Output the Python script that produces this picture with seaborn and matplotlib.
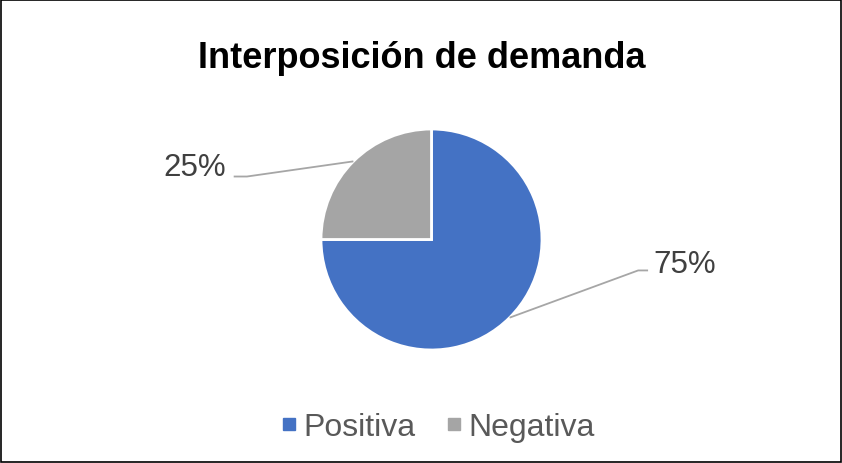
import numpy as np
import seaborn as sns
import matplotlib.pyplot as plt
from matplotlib.lines import Line2D
from matplotlib.patches import Rectangle

categorias = ['Positiva', 'Negativa']
porcentajes = [75, 25]
colores = ['#4472C4', '#A5A5A5']
titulo = 'Interposición de demanda'

sns.set_style('white')
plt.rcParams['font.family'] = ['Liberation Sans', 'DejaVu Sans']

fig = plt.figure(figsize=(8.42, 4.64), dpi=100)
ax = fig.add_axes([321 / 842, 113 / 464, 221 / 842, 221 / 464])

wedges, _ = ax.pie(porcentajes, colors=colores, startangle=90, counterclock=False,
                   radius=1, wedgeprops=dict(edgecolor='white', linewidth=2))
ax.set_xlim(-1, 1)
ax.set_ylim(-1, 1)
ax.set_aspect('equal')
ax.axis('off')

# etiquetas con lineas guia
codos = [((1.87, -0.28), (1.96, -0.28)), ((-1.67, 0.57), (-1.79, 0.57))]
textos = [((2.01, -0.22), 'left'), ((-1.86, 0.66), 'right')]
for w, p, (c1, c2), ((tx, ty), ha) in zip(wedges, porcentajes, codos, textos):
    ang = np.deg2rad((w.theta1 + w.theta2) / 2)
    x0, y0 = np.cos(ang), np.sin(ang)
    ax.plot([x0, c1[0], c2[0]], [y0, c1[1], c2[1]], color='#A6A6A6', lw=1.3,
            clip_on=False, solid_capstyle='butt')
    ax.text(tx, ty, f'{p}%', ha=ha, va='center', fontsize=22.5, color='#404040')

fig.text(0.501, 1 - 68 / 464, titulo, ha='center', va='baseline',
         fontsize=26, fontweight='bold', color='black')

handles = [Line2D([], [], marker='s', ls='', color=c, markersize=8) for c in colores]
fig.legend(handles, categorias, loc='center', bbox_to_anchor=(0.519, 1 - 428 / 464),
           ncol=2, frameon=False, fontsize=23, labelcolor='#595959',
           handletextpad=0.15, columnspacing=0.9, handlelength=0.6)

fig.patches.append(Rectangle((0.0015, 0.003), 0.997, 0.995, transform=fig.transFigure,
                             fill=False, ec='black', lw=1.2))

fig.savefig('out.png', dpi=100)
